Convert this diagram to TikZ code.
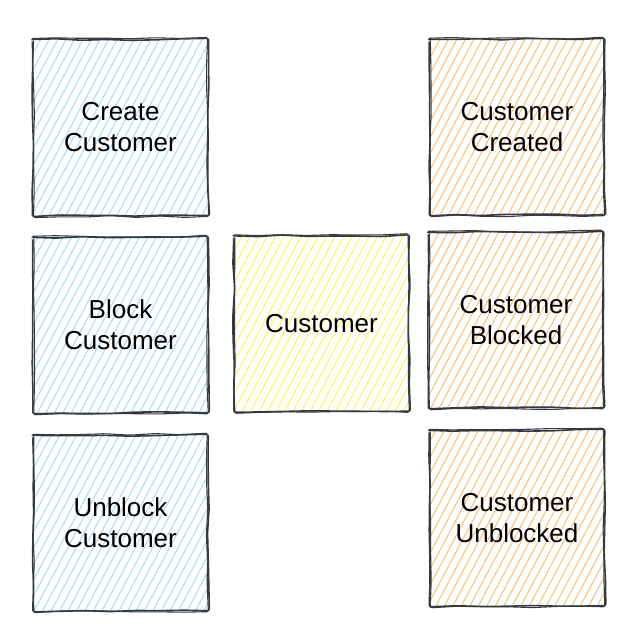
\documentclass[tikz,border=0pt]{standalone}
\usepackage{fontspec}
\setmainfont{Liberation Sans}
\usetikzlibrary{patterns.meta,decorations.pathmorphing}

\definecolor{cmdblue}{HTML}{A5D8FF}
\definecolor{aggyellow}{HTML}{FFF35C}
\definecolor{evtorange}{HTML}{FFBB70}
\definecolor{penline}{HTML}{343A40}

\tikzset{
  note/.style={minimum width=175pt, minimum height=175pt, inner sep=0pt,
    align=center, font=\fontsize{26}{31}\selectfont},
  hatch/.style={pattern={Lines[angle=62,distance=7.5pt,line width=1pt]}, pattern color=#1},
  sketch/.style={draw=penline, line width=1.6pt, rounded corners=2pt,
    decorate, decoration={random steps, segment length=25pt, amplitude=0.9pt}}
}

\begin{document}
\begin{tikzpicture}[x=1pt,y=-1pt]
\pgfmathsetseed{7}
\useasboundingbox (0,0) rectangle (637,643);
% commands
\node[note, hatch=cmdblue] (create) at (120.5,127.5) {Create\\Customer};
\node[note, hatch=cmdblue] (block) at (120.5,325) {Block\\Customer};
\node[note, hatch=cmdblue] (unblock) at (120.5,523) {Unblock\\Customer};
% aggregate
\node[note, hatch=aggyellow] (customer) at (321.5,323.5) {Customer};
% events
\node[note, hatch=evtorange] (created) at (517,127) {Customer\\Created};
\node[note, hatch=evtorange] (blocked) at (516,320) {Customer\\Blocked};
\node[note, hatch=evtorange] (unblocked) at (517,518) {Customer\\Unblocked};
% hand drawn borders, two strokes each
\foreach \n in {create,block,unblock,customer,created,blocked,unblocked}{
  \draw[sketch] (\n.north west) rectangle (\n.south east);
  \draw[sketch, line width=1.1pt] ([shift={(1,-1)}]\n.north west) rectangle ([shift={(-1,1)}]\n.south east);
}
\end{tikzpicture}
\end{document}
